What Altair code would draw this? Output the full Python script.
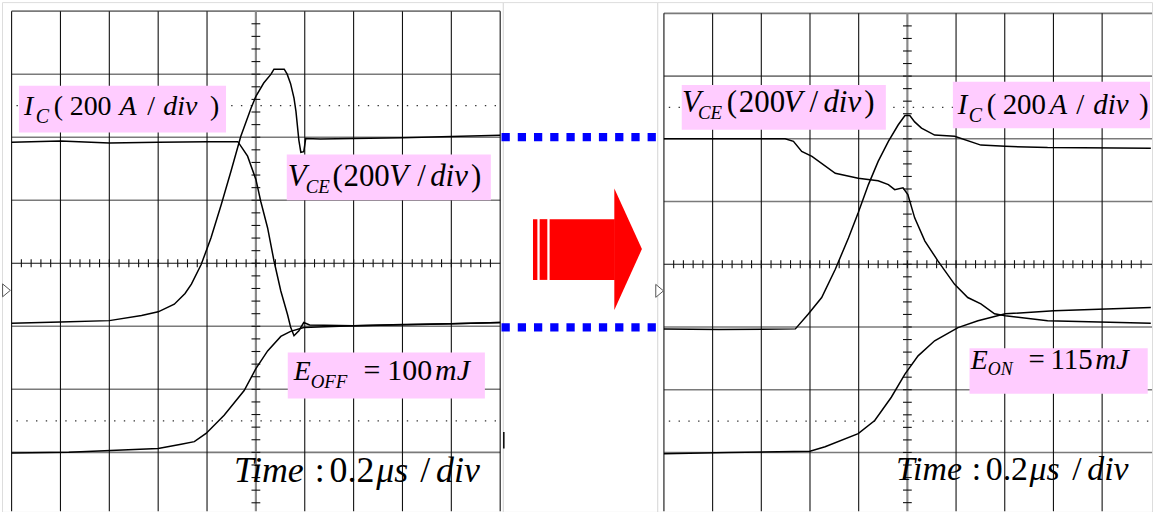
import altair as alt
import pandas as pd

# ---------------- trace data read from the two scope screens ----------------
# t = time in divisions from the screen centre (0.2 us/div), v = divisions from the screen centre
OFF_IC_T = [-5.0, -4.0, -3.0, -2.0, -1.0, -0.37, -0.29, -0.17, 0.0, 0.10, 0.24, 0.37, 0.51, 0.65, 0.71, 0.78, 0.88, 0.98, 1.10, 2.0, 3.0, 4.0, 5.0]
OFF_IC_V = [1.92, 1.94, 1.91, 1.92, 1.93, 1.93, 1.84, 1.70, 1.33, 0.98, 0.56, 0.04, -0.44, -0.82, -1.01, -1.15, -1.07, -0.94, -0.98, -0.99, -0.97, -0.96, -0.94]

OFF_VCE_T = [-5.0, -4.0, -3.0, -2.34, -2.0, -1.67, -1.45, -1.32, -1.12, -0.92, -0.71, -0.51, -0.31, -0.10, 0.0, 0.16, 0.31, 0.37, 0.58, 0.64, 0.71, 0.78, 0.82, 0.88, 0.92, 0.98, 1.02, 1.32, 3.0, 5.0]
OFF_VCE_V = [-0.95, -0.93, -0.91, -0.83, -0.77, -0.65, -0.48, -0.33, -0.02, 0.40, 0.93, 1.46, 2.01, 2.46, 2.65, 2.86, 3.00, 3.08, 3.08, 3.00, 2.85, 2.62, 2.41, 1.95, 1.76, 1.77, 1.98, 1.97, 1.99, 2.03]

OFF_E_T = [-5.0, -3.83, -2.0, -1.53, -1.26, -1.02, -0.65, -0.24, 0.0, 0.24, 0.51, 0.71, 0.98, 2.0, 3.36, 5.0]
OFF_E_V = [-3.01, -3.00, -2.94, -2.87, -2.83, -2.70, -2.41, -2.02, -1.67, -1.39, -1.16, -1.08, -1.02, -0.99, -0.97, -0.94]

ON_IC_T = [-5.0, -3.87, -2.30, -2.03, -1.76, -1.48, -1.21, -1.01, -0.80, -0.60, -0.39, -0.19, -0.05, 0.05, 0.15, 0.29, 0.56, 0.97, 1.51, 2.01, 2.88, 5.0]
ON_IC_V = [-1.03, -1.04, -1.03, -0.79, -0.53, -0.08, 0.42, 0.82, 1.27, 1.64, 1.96, 2.22, 2.37, 2.37, 2.27, 2.17, 2.06, 2.04, 1.90, 1.88, 1.86, 1.85]

ON_VCE_T = [-5.0, -3.87, -2.51, -2.34, -2.17, -1.96, -1.48, -1.01, -0.60, -0.39, -0.26, -0.09, 0.01, 0.15, 0.36, 0.63, 0.97, 1.24, 1.51, 1.79, 2.01, 2.88, 5.0]
ON_VCE_V = [2.00, 2.00, 2.00, 1.96, 1.80, 1.72, 1.45, 1.37, 1.33, 1.27, 1.19, 1.22, 1.11, 0.74, 0.37, 0.05, -0.32, -0.53, -0.63, -0.79, -0.82, -0.90, -0.94]

ON_E_T = [-5.0, -3.67, -2.0, -1.69, -1.01, -0.67, -0.33, -0.05, 0.22, 0.56, 1.04, 1.45, 2.01, 3.01, 5.0]
ON_E_V = [-3.02, -3.00, -2.98, -2.91, -2.70, -2.49, -2.12, -1.75, -1.46, -1.22, -1.01, -0.90, -0.79, -0.74, -0.69]

# scope graticule
GRID_T_OFF = [-5, -4, -3, -2, -1, 1, 2, 3, 4, 5]
GRID_T_ON = [-5, -4, -3, -2, -1, 1, 2, 3, 4]
GRID_V = [-3, -2, -1, 1, 2, 3, 4]
DOT_V = [-2.5, 2.5]
MINOR_T = [k / 5 for k in range(-24, 25)]
MINOR_V = [k / 5 for k in range(-19, 20)]

# ---------------- layout of the two screens on the page ----------------
H = 512
SCREENS = {
    "off": dict(cx=255.0, cy=262.3, dx=49.07, dy=63.3, x0=0.0, x1=503.0),
    "on": dict(cx=909.3, cy=263.3, dx=48.9, dy=63.0, x0=658.0, x1=1155.0),
}


def to_t(g, px):
    return (px - g["cx"]) / g["dx"]


def to_v(g, py):
    return (g["cy"] - py) / g["dy"]


# label boxes (left, right, top, bottom in page px) and text pieces (text, left, baseline, size, italic)
OFF_BOXES = [(17, 225, 84, 131), (286, 491, 153, 199), (287, 485, 352, 398)]
ON_BOXES = [(682.7, 887.7, 83.3, 128.3), (955, 1153, 80, 126.7), (971.7, 1150.7, 347.7, 393.3)]

OFF_TEXT = [
    ("I", 22, 113, 28, 1), ("C", 34, 121, 20, 1), ("(", 52, 113, 28, 0), ("200", 68, 113, 28, 0),
    ("A", 118, 113, 28, 1), ("/", 146, 113, 28, 0), ("div", 162, 113, 28, 1), (")", 209, 113, 28, 0),
    ("V", 287, 185, 31, 1), ("CE", 305, 192, 19, 1), ("(", 332, 185, 31, 0), ("200", 343, 185, 31, 0),
    ("V", 389, 185, 31, 1), ("/", 417, 185, 31, 0), ("div", 430, 185, 31, 1), (")", 471, 185, 31, 0),
    ("E", 293, 380, 28, 1), ("OFF", 310, 388, 19, 1), ("=", 363, 380, 30, 0), ("100", 387, 380, 30, 0),
    ("mJ", 435, 380, 30, 1),
    ("Time", 233, 482, 36, 1), (":", 314, 482, 36, 0), ("0.2", 329, 482, 36, 0), ("μs", 376, 482, 36, 1),
    ("/", 420, 482, 36, 0), ("div", 436, 482, 36, 1),
]
ON_TEXT = [
    ("V", 683, 110, 31, 1), ("CE", 699, 117.5, 19, 1), ("(", 728, 110, 31, 0), ("200", 740, 110, 31, 0),
    ("V", 785, 110, 31, 1), ("/", 811, 110, 31, 0), ("div", 825, 110, 31, 1), (")", 866, 110, 31, 0),
    ("I", 960, 112, 29, 1), ("C", 971, 120, 20, 1), ("(", 989, 112, 29, 0), ("200", 1005, 112, 29, 0),
    ("A", 1052, 112, 29, 1), ("/", 1079, 112, 29, 0), ("div", 1096, 112, 29, 1), (")", 1142, 112, 29, 0),
    ("E", 973, 368, 28, 1), ("ON", 990, 375, 18, 1), ("=", 1031, 368, 29, 0), ("115", 1053, 368, 29, 0),
    ("mJ", 1098, 368, 29, 1),
    ("Time", 898, 480, 34, 1), (":", 974, 480, 34, 0), ("0.2", 988, 480, 34, 0), ("μs", 1032, 480, 34, 1),
    ("/", 1075, 480, 34, 0), ("div", 1090, 480, 34, 1),
]

TRIG_SHAPE = "M-0.6,-1L0.6,0L-0.6,1Z"
FONT = "Liberation Serif"


def screen(key, traces, boxes, pieces, vlines, trig_px, trig_py):
    g = SCREENS[key]
    xd = [to_t(g, g["x0"]), to_t(g, g["x1"])]
    yd = [to_v(g, H), to_v(g, 0)]
    xs = alt.Scale(domain=xd, nice=False, zero=False)
    ys = alt.Scale(domain=yd, nice=False, zero=False)
    hx2 = 5.0 if key == "off" else xd[1]

    def X(f):
        return alt.X(f, type="quantitative", scale=xs, axis=None)

    def Y(f):
        return alt.Y(f, type="quantitative", scale=ys, axis=None)

    layers = []
    hg = pd.DataFrame({"v": GRID_V, "a": -5.0, "b": hx2})
    layers.append(alt.Chart(hg).mark_rule(color="#7a7a7a", strokeWidth=1.6)
                  .encode(y=Y("v"), x=X("a"), x2="b"))
    vg = pd.DataFrame({"t": vlines, "a": yd[0] + 0.01, "b": 4.0})
    layers.append(alt.Chart(vg).mark_rule(color="#111111", strokeWidth=1.1)
                  .encode(x=X("t"), y=Y("a"), y2="b"))
    cv = pd.DataFrame({"t": [0.0], "a": [yd[0] + 0.01], "b": [4.0]})
    layers.append(alt.Chart(cv).mark_rule(color="#8a8a8a", strokeWidth=2.2)
                  .encode(x=X("t"), y=Y("a"), y2="b"))
    ch = pd.DataFrame({"v": [0.0], "a": [-5.0], "b": [hx2]})
    layers.append(alt.Chart(ch).mark_rule(color="#111111", strokeWidth=1.2)
                  .encode(y=Y("v"), x=X("a"), x2="b"))
    dg = pd.DataFrame({"v": DOT_V, "a": -4.9, "b": 4.95})
    layers.append(alt.Chart(dg).mark_rule(color="#333333", strokeWidth=1.3, strokeDash=[1.4, 8.4])
                  .encode(y=Y("v"), x=X("a"), x2="b"))
    mv = pd.DataFrame({"v": MINOR_V, "a": -0.09, "b": 0.09})
    layers.append(alt.Chart(mv).mark_rule(color="#111111", strokeWidth=1.1)
                  .encode(y=Y("v"), x=X("a"), x2="b"))
    mt = pd.DataFrame({"t": MINOR_T, "a": -0.065, "b": 0.065})
    layers.append(alt.Chart(mt).mark_rule(color="#111111", strokeWidth=1.1)
                  .encode(x=X("t"), y=Y("a"), y2="b"))

    rows = []
    for name, ts, vs in traces:
        for i, (t, v) in enumerate(zip(ts, vs)):
            rows.append({"s": name, "i": i, "t": t, "v": v})
    layers.append(alt.Chart(pd.DataFrame(rows)).mark_line(color="black", strokeWidth=1.5)
                  .encode(x=X("t"), y=Y("v"), detail="s:N", order="i:Q"))

    bx = pd.DataFrame([{"a": to_t(g, l), "b": to_t(g, r), "c": to_v(g, tp), "d": to_v(g, bt)}
                       for l, r, tp, bt in boxes])
    layers.append(alt.Chart(bx).mark_rect(color="#FFCCFF")
                  .encode(x=X("a"), x2="b", y=Y("c"), y2="d"))

    tx = pd.DataFrame([{"txt": s, "t": to_t(g, px), "v": to_v(g, py), "size": sz, "it": it}
                       for s, px, py, sz, it in pieces])
    for it, style in ((1, "italic"), (0, "normal")):
        layers.append(alt.Chart(tx[tx["it"] == it]).mark_text(
            font=FONT, fontStyle=style, align="left", baseline="alphabetic", color="black")
            .encode(x=X("t"), y=Y("v"), text="txt:N", size=alt.Size("size:Q", scale=None)))

    tr = pd.DataFrame({"t": [to_t(g, trig_px)], "v": [to_v(g, trig_py)]})
    layers.append(alt.Chart(tr).mark_point(shape=TRIG_SHAPE, size=169, filled=True, fill="white",
                                           stroke="#555555", strokeWidth=1, opacity=1)
                  .encode(x=X("t"), y=Y("v")))

    return alt.layer(*layers).properties(width=g["x1"] - g["x0"], height=H)


left = screen("off",
              [("ic", OFF_IC_T, OFF_IC_V), ("vce", OFF_VCE_T, OFF_VCE_V), ("e", OFF_E_T, OFF_E_V)],
              OFF_BOXES, OFF_TEXT, GRID_T_OFF, 4.5, 289.5)
right = screen("on",
               [("ic", ON_IC_T, ON_IC_V), ("vce", ON_VCE_T, ON_VCE_V), ("e", ON_E_T, ON_E_V)],
               ON_BOXES, ON_TEXT, GRID_T_ON, 660.5, 290)

# ---------------- middle strip: blue dotted links and red arrow ----------------
g = SCREENS["off"]
MID_X0 = g["x1"]
MID_W = SCREENS["on"]["x0"] - g["x1"]
mxs = alt.Scale(domain=[0, MID_W], nice=False, zero=False)
mys = alt.Scale(domain=[to_v(g, H), to_v(g, 0)], nice=False, zero=False)


def MX(f):
    return alt.X(f, type="quantitative", scale=mxs, axis=None)


def MY(f):
    return alt.Y(f, type="quantitative", scale=mys, axis=None)


links = pd.DataFrame({"v": [to_v(g, 135.7), to_v(g, 326.7)], "a": 501.7 - MID_X0, "b": 657.0 - MID_X0})
link_layer = alt.Chart(links).mark_rule(color="#0000FF", strokeWidth=8.3, strokeDash=[8.3, 8.0]) \
    .encode(y=MY("v"), x=MX("a"), x2="b")

bars = pd.DataFrame({
    "a": [p - MID_X0 for p in (533.3, 540.0, 550.0)],
    "b": [p - MID_X0 for p in (537.7, 547.7, 615.5)],
    "c": to_v(g, 218.0), "d": to_v(g, 279.0)})
bar_layer = alt.Chart(bars).mark_rect(color="#FF0000").encode(x=MX("a"), x2="b", y=MY("c"), y2="d")

head = pd.DataFrame({"x": [615.0 - MID_X0, 642.7 - MID_X0],
                     "y": [to_v(g, 187.3), to_v(g, 248.0)],
                     "y2": [to_v(g, 309.3), to_v(g, 248.0)]})
head_layer = alt.Chart(head).mark_area(color="#FF0000").encode(x=MX("x"), y=MY("y"), y2="y2")

stub = pd.DataFrame({"x": [504.0 - MID_X0], "a": [to_v(g, 431.7)], "b": [to_v(g, 448.3)]})
stub_layer = alt.Chart(stub).mark_rule(color="black", strokeWidth=1.5).encode(x=MX("x"), y=MY("a"), y2="b")

middle = alt.layer(link_layer, bar_layer, head_layer, stub_layer).properties(width=MID_W, height=H)

chart = alt.hconcat(left, middle, right, spacing=0, bounds="flush", padding=0) \
    .resolve_scale(x="independent", y="independent") \
    .configure_view(stroke="transparent") \
    .configure(background="white")

chart.save("out.html", embed_options={"renderer": "svg", "actions": False})
